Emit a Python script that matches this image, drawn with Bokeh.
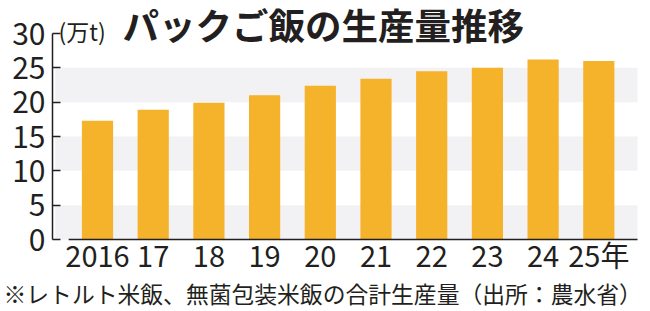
from bokeh.plotting import figure
from bokeh.models import Range1d, FixedTicker, Label, ColumnDataSource
from bokeh.embed import file_html
from bokeh.resources import INLINE

years = ["2016", "17", "18", "19", "20", "21", "22", "23", "24", "25年"]
production = [17.3, 18.9, 19.9, 21.0, 22.4, 23.4, 24.5, 25.0, 26.2, 26.0]
y_ticks = [0, 5, 10, 15, 20, 25, 30]

title_text = "パックご飯の生産量推移"
unit_text = "(万t)"
note_text = "※レトルト米飯、無菌包装米飯の合計生産量（出所：農水省）"

FONT = "Noto Sans CJK JP"
BAR = "#F5B22B"
BAND = "#F2F2F4"
INK = "#231F20"

W, H = 650, 311
# pixel geometry of the plotting area
px_left, px_right, px_top, px_bottom = 52, 637, 33, 239
slot = 55.7                      # px per category
x_axis_at = -0.808               # data x of the y-axis line
x_end = x_axis_at + (px_right - px_left) / slot
ppu = (px_bottom - px_top) / (y_ticks[-1] - y_ticks[0])

xr = Range1d(x_axis_at - px_left / slot, x_axis_at + (W - px_left) / slot)
yr = Range1d(-(H - px_bottom) / ppu, px_bottom / ppu)

p = figure(width=W, height=H, output_backend="svg", toolbar_location=None,
           x_range=xr, y_range=yr, min_border=0)
p.min_border_left = 0
p.min_border_right = 0
p.min_border_top = 0
p.min_border_bottom = 0
p.outline_line_color = None
p.xgrid.visible = False
p.ygrid.visible = False
p.background_fill_color = "white"
p.border_fill_color = "white"

band_bottom = y_ticks[0:-1:2]
band_top = y_ticks[1::2]
p.quad(left=[x_axis_at + 0.05] * len(band_bottom), right=[x_end] * len(band_bottom),
       bottom=band_bottom, top=band_top, fill_color=BAND, line_color=None)

src = ColumnDataSource(dict(x=list(range(len(years))), top=production))
p.vbar(x="x", top="top", width=0.56, bottom=0, source=src, fill_color=BAR, line_color=None)

p.segment(x0=[x_axis_at + 0.29], x1=[x_end], y0=[0], y1=[0], line_color=INK, line_width=1.5)

ya = p.yaxis[0]
ya.fixed_location = x_axis_at
ya.bounds = (y_ticks[0], y_ticks[-1])
ya.ticker = FixedTicker(ticks=y_ticks)
ya.major_tick_in = 8
ya.major_tick_out = 0
ya.minor_tick_in = 0
ya.minor_tick_out = 0
ya.axis_line_color = INK
ya.axis_line_width = 1.5
ya.major_tick_line_color = INK
ya.major_tick_line_width = 1.5
ya.major_label_text_font = FONT
ya.major_label_text_font_size = "30px"
ya.major_label_text_color = INK
ya.major_label_standoff = 7

xa = p.xaxis[0]
xa.fixed_location = 0
xa.ticker = FixedTicker(ticks=list(range(len(years))))
xa.major_label_overrides = {i: y for i, y in enumerate(years)}
xa.axis_line_color = None
xa.major_tick_line_color = None
xa.minor_tick_line_color = None
xa.major_label_text_font = FONT
xa.major_label_text_font_size = "29px"
xa.major_label_text_color = INK
xa.major_label_standoff = -13

# texts placed in screen units (origin bottom-left of the canvas)
p.add_layout(Label(x=122, y=H - 24, x_units="screen", y_units="screen",
                   text=title_text, text_font=FONT, text_font_style="bold",
                   text_font_size="36.5px", text_color=INK, text_baseline="middle"))
p.add_layout(Label(x=58, y=H - 30, x_units="screen", y_units="screen",
                   text=unit_text, text_font=FONT, text_font_size="23px",
                   text_color=INK, text_baseline="middle"))
p.add_layout(Label(x=3, y=H - 293, x_units="screen", y_units="screen",
                   text=note_text, text_font=FONT, text_font_size="22.8px",
                   text_color=INK, text_baseline="middle"))

open("out.html", "w").write(file_html(p, INLINE))
